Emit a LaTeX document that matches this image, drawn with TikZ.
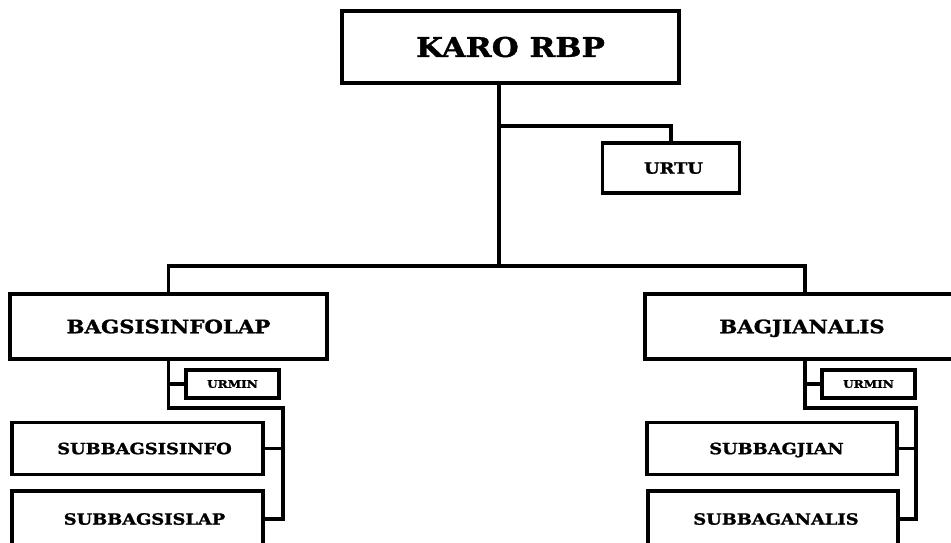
\documentclass[tikz,border=0pt]{standalone}
\usepackage{fontspec}
\setmainfont{DejaVu Serif}
\newfontfamily\orgfont{DejaVu Serif}[BoldFeatures={FakeStretch=1.15,FakeBold=1.3}]
\begin{document}
\begin{tikzpicture}[x=1pt,y=-1pt,
  unit/.style={draw=black, line width=3.2pt, fill=white, inner sep=0pt,
    text depth=0pt},
  sz/.style={font=\orgfont\bfseries\fontsize{#1}{#1}\selectfont},
  link/.style={draw=black, line width=3.2pt}]
\useasboundingbox (0,0) rectangle (951,543);
\clip (0,0) rectangle (951,543);

% boxes (text height = cap height of the chosen size)
\node[unit, sz=27, text height=19.7pt, minimum width=337pt, minimum height=72pt] (karo) at (510.5,47) {KARO RBP};
\node[unit, sz=15.5, text height=11.3pt, minimum width=137pt, minimum height=50pt] (urtu) at (671,168) {\hspace*{5pt}URTU};
\node[unit, sz=18.5, text height=13.5pt, minimum width=317pt, minimum height=65pt] (bagsis) at (168.5,326.5) {BAGSISINFOLAP};
\node[unit, sz=18.5, text height=13.5pt, minimum width=320pt, minimum height=65pt] (bagjian) at (805,326.5) {\hspace*{-6pt}BAGJIANALIS};
\node[unit, sz=10.5, text height=7.65pt, minimum width=93pt, minimum height=28pt] (urminL) at (232.5,384) {URMIN};
\node[unit, sz=10.5, text height=7.65pt, minimum width=93pt, minimum height=28pt] (urminR) at (868.5,384) {URMIN};
\node[unit, sz=15.5, text height=11.3pt, minimum width=251pt, minimum height=52pt] (sisinfo) at (137.5,448.5) {\hspace*{14pt}SUBBAGSISINFO};
\node[unit, sz=15.5, text height=11.3pt, minimum width=251pt, minimum height=56pt] (sislap) at (137.5,519) {\hspace*{14pt}SUBBAGSISLAP};
\node[unit, sz=15.5, text height=11.3pt, minimum width=250pt, minimum height=52pt] (subjian) at (772,448.5) {\hspace*{9pt}SUBBAGJIAN};
\node[unit, sz=15.5, text height=11.3pt, minimum width=250pt, minimum height=56pt] (subanalis) at (773,519) {\hspace*{6pt}SUBBAGANALIS};

% junction points
\coordinate (k0) at (499,266);
\coordinate (k1) at (499,126);
\coordinate (lb) at (283,408);
\coordinate (rb) at (916,408);

% connectors
\draw[link] (karo.south -| k0) -- (k0);
\draw[link] (k1) -| (urtu.north);
\draw[link] (bagsis.north) |- (k0) -| (bagjian.north);
\draw[link] (bagsis.south) |- (lb) |- (sislap.east);
\draw[link] (sisinfo.east) -- (sisinfo.east -| lb);
\draw[link] (urminL.west) -- (urminL.west -| bagsis.south);
\draw[link] (bagjian.south) |- (rb) |- (subanalis.east);
\draw[link] (subjian.east) -- (subjian.east -| rb);
\draw[link] (urminR.west) -- (urminR.west -| bagjian.south);
\end{tikzpicture}
\end{document}
